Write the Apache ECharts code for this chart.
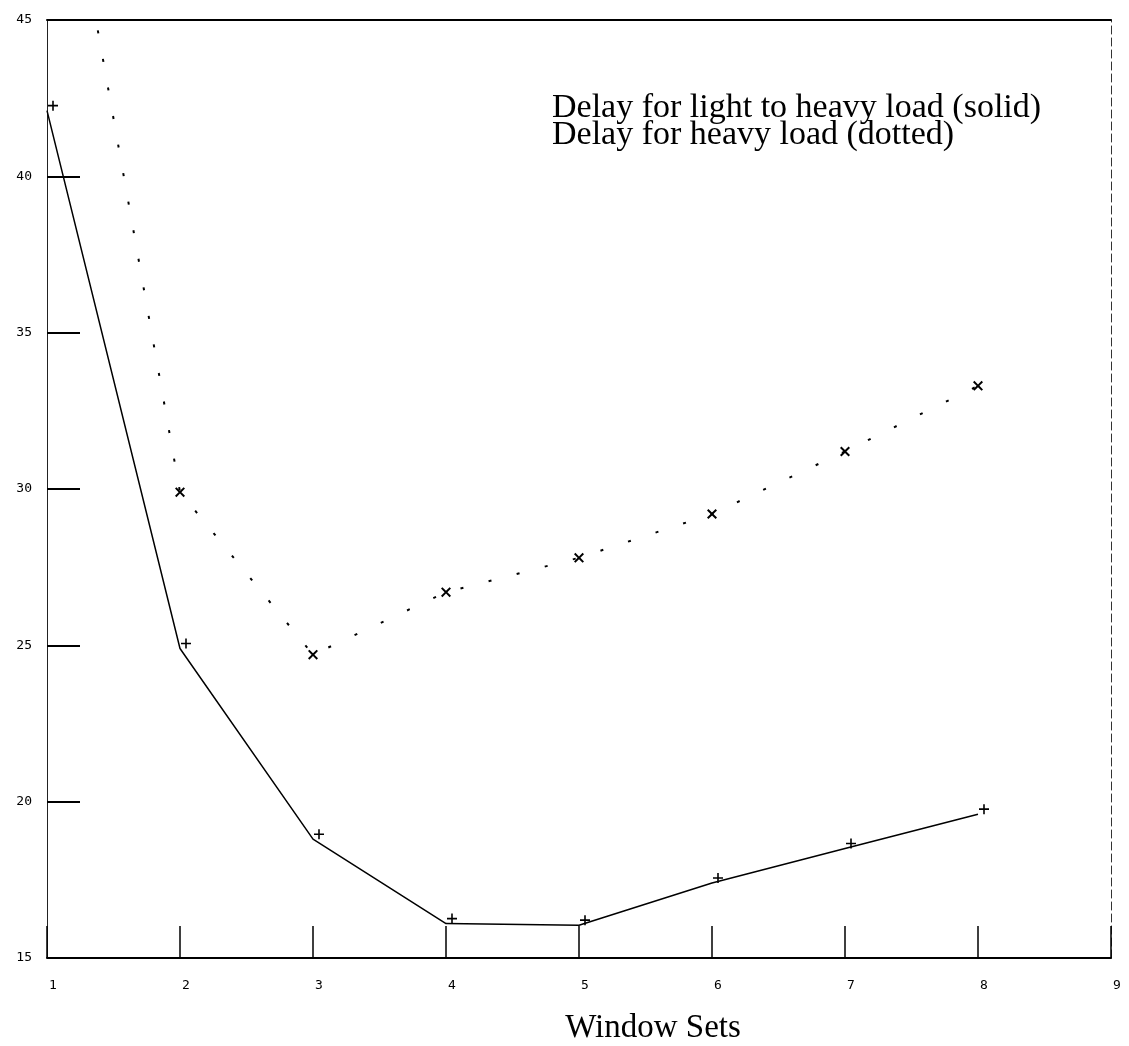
<!DOCTYPE html>
<html>
<head>
<meta charset="utf-8">
<script src="https://cdn.jsdelivr.net/npm/echarts@6/dist/echarts.min.js"></script>
<style>
html,body{margin:0;padding:0;background:#fff;}
#chart{width:1129px;height:1046px;}
</style>
</head>
<body>
<div id="chart"></div>
<script>
// Data
var windowSets = [1, 2, 3, 4, 5, 6, 7, 8];
var delayLightToHeavy = [42.1, 24.9, 18.8, 16.1, 16.05, 17.4, 18.5, 19.6]; // solid
var delayHeavy = [53.8, 29.9, 24.7, 26.7, 27.8, 29.2, 31.2, 33.3];        // dotted
var xTicks = [1, 2, 3, 4, 5, 6, 7, 8, 9];
var yTicks = [15, 20, 25, 30, 35, 40, 45];
var legendLines = ['Delay for light to heavy load (solid)', 'Delay for heavy load (dotted)'];
var xTitle = 'Window Sets';

var plusPath = 'path://M4.2,0H5.8V4.2H10V5.8H5.8V10H4.2V5.8H0V4.2H4.2Z';
var crossPath = 'path://M1.4,0L5,3.6L8.6,0L10,1.4L6.4,5L10,8.6L8.6,10L5,6.4L1.4,10L0,8.6L3.6,5L0,1.4Z';

function pairs(xs, ys) { return xs.map(function (x, i) { return [x, ys[i]]; }); }

var chart = echarts.init(document.getElementById('chart'), null, {renderer: 'canvas'});
var labelFont = {fontFamily: 'DejaVu Sans Mono', fontSize: 13, color: '#000'};
chart.setOption({
  animation: false,
  backgroundColor: '#fff',
  grid: {left: 47, right: 18, top: 20, bottom: 88, containLabel: false},
  xAxis: [{
    type: 'value', min: xTicks[0], max: xTicks[xTicks.length - 1], interval: 1,
    position: 'bottom',
    axisLine: {show: true, lineStyle: {color: '#000', width: 2}},
    axisTick: {show: true, inside: true, length: 32, lineStyle: {color: '#000', width: 1.5}},
    axisLabel: Object.assign({margin: 21, padding: [0, 0, 0, 12]}, labelFont),
    splitLine: {show: false}
  }, {
    type: 'value', min: xTicks[0], max: xTicks[xTicks.length - 1],
    position: 'top',
    axisLine: {show: true, lineStyle: {color: '#000', width: 2}},
    axisTick: {show: false}, axisLabel: {show: false}, splitLine: {show: false}
  }],
  yAxis: [{
    type: 'value', min: yTicks[0], max: yTicks[yTicks.length - 1], interval: 5,
    position: 'left',
    axisLine: {show: true, lineStyle: {color: '#222', width: 1}},
    axisTick: {show: true, inside: true, length: 33, lineStyle: {color: '#000', width: 2}},
    axisLabel: Object.assign({margin: 15, padding: [0, 0, 10, 0]}, labelFont),
    splitLine: {show: false}
  }, {
    type: 'value', min: yTicks[0], max: yTicks[yTicks.length - 1],
    position: 'right',
    axisLine: {show: true, lineStyle: {color: '#333', width: 1, type: [8, 4]}},
    axisTick: {show: false}, axisLabel: {show: false}, splitLine: {show: false}
  }],
  series: [{
    name: legendLines[0],
    type: 'line',
    data: pairs(windowSets, delayLightToHeavy),
    clip: true,
    symbol: plusPath,
    symbolSize: 10,
    symbolOffset: [6, -5],
    itemStyle: {color: '#000'},
    lineStyle: {color: '#000', width: 1.5}
  }, {
    name: legendLines[1],
    type: 'line',
    data: pairs(windowSets, delayHeavy),
    clip: true,
    symbol: crossPath,
    symbolSize: 10,
    itemStyle: {color: '#000'},
    lineStyle: {color: '#000', width: 2, type: [3, 26]}
  }],
  graphic: [{
    type: 'text', left: 552, top: 91,
    style: {text: legendLines[0], font: '34px "Liberation Serif"', fill: '#000'}
  }, {
    type: 'text', left: 552, top: 118,
    style: {text: legendLines[1], font: '34px "Liberation Serif"', fill: '#000'}
  }, {
    type: 'text', x: 653, y: 1028,
    style: {text: xTitle, font: '33px "Liberation Serif"', fill: '#000', align: 'center', verticalAlign: 'middle'}
  }]
});
</script>
</body>
</html>
